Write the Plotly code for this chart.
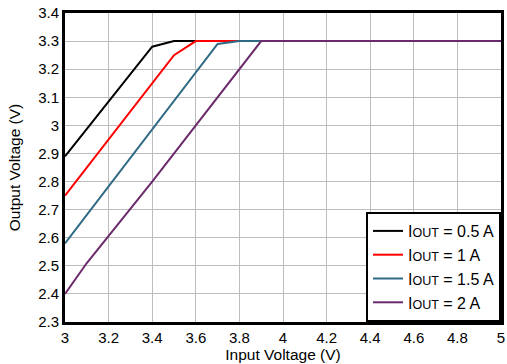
import plotly.graph_objects as go

x_black = [3.0, 3.4, 3.5, 5.0]
y_black = [2.89, 3.28, 3.30, 3.30]
x_red = [3.0, 3.5, 3.6, 5.0]
y_red = [2.75, 3.25, 3.30, 3.30]
x_teal = [3.0, 3.7, 3.8, 5.0]
y_teal = [2.58, 3.29, 3.30, 3.30]
x_purple = [3.0, 3.1, 3.4, 3.9, 5.0]
y_purple = [2.40, 2.51, 2.80, 3.30, 3.30]

sub = '<span style="font-size:12.5px">OUT</span>'
names = ["I" + sub + " = 0.5 A", "I" + sub + " = 1 A", "I" + sub + " = 1.5 A", "I" + sub + " = 2 A"]
colors = ["#000000", "#FF0000", "#2F6A84", "#6B2A6B"]
xs = [x_black, x_red, x_teal, x_purple]
ys = [y_black, y_red, y_teal, y_purple]

x_ticks = [3, 3.2, 3.4, 3.6, 3.8, 4, 4.2, 4.4, 4.6, 4.8, 5]
x_ticklabels = ["3", "3.2", "3.4", "3.6", "3.8", "4", "4.2", "4.4", "4.6", "4.8", "5"]
y_ticks = [2.3, 2.4, 2.5, 2.6, 2.7, 2.8, 2.9, 3.0, 3.1, 3.2, 3.3, 3.4]
y_ticklabels = ["2.3", "2.4", "2.5", "2.6", "2.7", "2.8", "2.9", "3", "3.1", "3.2", "3.3", "3.4"]

fig = go.Figure()
for x, y, n, c in zip(xs, ys, names, colors):
    fig.add_trace(go.Scatter(x=x, y=y, mode="lines", name=n,
                             line=dict(color=c, width=2)))

fam = "Liberation Sans, Arial, sans-serif"
fig.update_layout(
    width=507, height=364,
    margin=dict(l=65, r=6, t=13, b=42, autoexpand=False),
    paper_bgcolor="white", plot_bgcolor="white",
    font=dict(family=fam, size=15, color="#000000"),
    showlegend=True,
    legend=dict(x=1, y=0, xanchor="right", yanchor="bottom",
                bordercolor="black", borderwidth=2, bgcolor="white",
                font=dict(family=fam, size=16, color="#000000"),
                itemwidth=30, tracegroupgap=0),
    xaxis=dict(range=[3, 5], tickvals=x_ticks, ticktext=x_ticklabels,
               showgrid=True, gridcolor="#BDBDBD", gridwidth=1,
               showline=True, linecolor="black", linewidth=3, mirror=True,
               ticks="", zeroline=False, automargin=False,
               ticklabeloverflow="allow",
               tickfont=dict(family=fam, size=15),
               title=dict(text="Input Voltage (V)", standoff=0,
                          font=dict(family=fam, size=15.5))),
    yaxis=dict(range=[2.3, 3.4], tickvals=y_ticks, ticktext=y_ticklabels,
               showgrid=True, gridcolor="#BDBDBD", gridwidth=1,
               showline=True, linecolor="black", linewidth=3, mirror=True,
               ticks="", zeroline=False, automargin=False,
               ticklabeloverflow="allow",
               tickfont=dict(family=fam, size=15),
               title=dict(text="Output Voltage (V)", standoff=14,
                          font=dict(family=fam, size=15.5))),
)

fig.write_html("out.html", config={"displayModeBar": False},
               post_script="document.body.style.margin='0';")
